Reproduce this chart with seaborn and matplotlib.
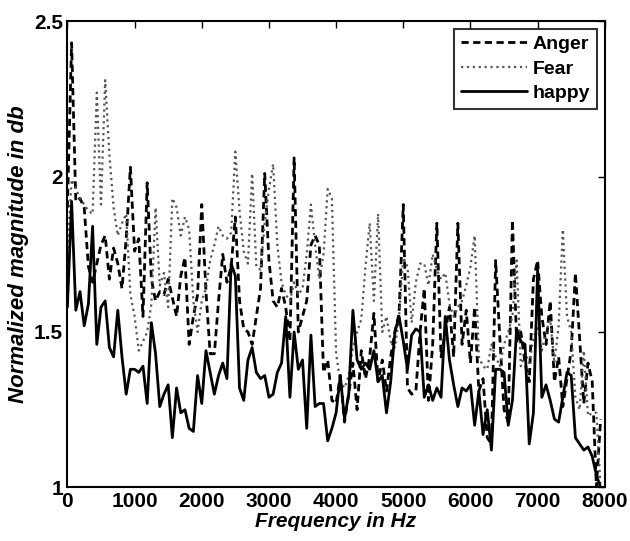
import numpy as np
import pandas as pd
from matplotlib import pyplot as plt
import seaborn as sns

step = 62.5  # Hz between samples
anger = [1.90, 2.43, 1.92, 1.93, 1.90, 1.71, 1.66, 1.72, 1.78, 1.81,
         1.67, 1.77, 1.72, 1.64, 1.80, 2.03, 1.76, 1.80, 1.55, 1.98,
         1.67, 1.60, 1.63, 1.62, 1.67, 1.61, 1.55, 1.68, 1.74, 1.46,
         1.55, 1.62, 1.91, 1.63, 1.43, 1.43, 1.60, 1.75, 1.66, 1.71,
         1.87, 1.60, 1.51, 1.50, 1.46, 1.55, 1.64, 2.01, 1.73, 1.60,
         1.58, 1.64, 1.58, 1.47, 2.06, 1.50, 1.55, 1.60, 1.78, 1.81,
         1.78, 1.37, 1.41, 1.28, 1.27, 1.36, 1.21, 1.30, 1.40, 1.25,
         1.44, 1.35, 1.42, 1.56, 1.34, 1.41, 1.31, 1.42, 1.50, 1.56,
         1.91, 1.32, 1.30, 1.31, 1.50, 1.64, 1.28, 1.46, 1.85, 1.42,
         1.50, 1.58, 1.42, 1.85, 1.46, 1.57, 1.40, 1.58, 1.31, 1.35,
         1.16, 1.14, 1.73, 1.48, 1.25, 1.21, 1.86, 1.47, 1.50, 1.40,
         1.34, 1.67, 1.73, 1.55, 1.46, 1.60, 1.34, 1.42, 1.26, 1.35,
         1.44, 1.69, 1.48, 1.27, 1.40, 1.34, 1.00, 1.22]
fear = [1.75, 1.99, 1.96, 1.93, 1.91, 1.89, 1.88, 2.27, 1.91, 2.31,
        2.07, 1.90, 1.81, 1.85, 1.88, 1.62, 1.55, 1.44, 1.47, 1.50,
        1.59, 1.90, 1.65, 1.69, 1.58, 1.93, 1.90, 1.81, 1.87, 1.83,
        1.60, 1.50, 1.60, 1.64, 1.73, 1.78, 1.84, 1.81, 1.80, 1.82,
        2.08, 1.89, 1.76, 1.72, 2.01, 1.71, 1.70, 1.85, 1.96, 2.04,
        1.78, 1.66, 1.62, 1.60, 1.66, 1.62, 1.64, 1.75, 1.91, 1.78,
        1.67, 1.75, 1.96, 1.93, 1.43, 1.34, 1.32, 1.36, 1.45, 1.50,
        1.54, 1.71, 1.85, 1.60, 1.88, 1.50, 1.55, 1.47, 1.45, 1.55,
        1.74, 1.71, 1.53, 1.66, 1.72, 1.72, 1.65, 1.75, 1.70, 1.67,
        1.69, 1.59, 1.55, 1.58, 1.60, 1.65, 1.71, 1.81, 1.42, 1.39,
        1.38, 1.46, 1.42, 1.39, 1.46, 1.50, 1.55, 1.73, 1.39, 1.43,
        1.40, 1.48, 1.52, 1.44, 1.50, 1.54, 1.40, 1.52, 1.83, 1.55,
        1.50, 1.29, 1.25, 1.44, 1.23, 1.24, 1.24, 1.00]
happy = [1.58, 1.92, 1.57, 1.63, 1.52, 1.59, 1.84, 1.46, 1.58, 1.60,
         1.45, 1.42, 1.57, 1.42, 1.30, 1.38, 1.38, 1.37, 1.39, 1.27,
         1.53, 1.43, 1.26, 1.30, 1.33, 1.16, 1.32, 1.24, 1.25, 1.19,
         1.18, 1.36, 1.27, 1.44, 1.37, 1.30, 1.36, 1.40, 1.35, 1.72,
         1.68, 1.32, 1.28, 1.41, 1.45, 1.37, 1.35, 1.36, 1.29, 1.30,
         1.37, 1.40, 1.55, 1.29, 1.50, 1.38, 1.41, 1.19, 1.49, 1.26,
         1.27, 1.27, 1.15, 1.19, 1.24, 1.36, 1.22, 1.30, 1.57, 1.41,
         1.38, 1.40, 1.38, 1.44, 1.34, 1.36, 1.24, 1.34, 1.50, 1.55,
         1.47, 1.38, 1.49, 1.51, 1.50, 1.29, 1.33, 1.28, 1.32, 1.29,
         1.55, 1.41, 1.33, 1.26, 1.32, 1.31, 1.33, 1.20, 1.31, 1.17,
         1.25, 1.12, 1.38, 1.38, 1.37, 1.20, 1.28, 1.51, 1.47, 1.46,
         1.14, 1.24, 1.70, 1.29, 1.33, 1.28, 1.22, 1.21, 1.29, 1.37,
         1.36, 1.16, 1.14, 1.12, 1.13, 1.10, 1.04, 1.00]

freq = np.arange(len(happy)) * step

sns.set_theme(style="white")
plt.rcParams['font.family'] = ['Liberation Sans', 'DejaVu Sans']
plt.rcParams['font.weight'] = 'bold'
plt.rcParams['axes.labelcolor'] = 'black'
plt.rcParams['text.color'] = 'black'

fig = plt.figure(figsize=(6.3, 5.41), dpi=100)
ax = fig.add_axes([0.107, 0.099, 0.853, 0.862])

sns.lineplot(x=freq, y=anger, ax=ax, color="black", linestyle=(0, (2.6, 1.6)), linewidth=2.0, label="Anger")
sns.lineplot(x=freq, y=fear, ax=ax, color="#555555", linestyle=":", linewidth=1.6, label="Fear")
sns.lineplot(x=freq, y=happy, ax=ax, color="black", linestyle="-", linewidth=2.0, label="happy")

ax.set_xlim(0, 8000)
ax.set_ylim(1, 2.5)
ax.set_xticks([0, 1000, 2000, 3000, 4000, 5000, 6000, 7000, 8000])
ax.set_yticks([1, 1.5, 2, 2.5])
ax.set_yticklabels(["1", "1.5", "2", "2.5"])
ax.tick_params(direction="in", length=5, width=1, top=True, right=True,
               labelsize=15, colors="black", pad=3)
for lab in ax.get_xticklabels() + ax.get_yticklabels():
    lab.set_fontweight("bold")
for s in ax.spines.values():
    s.set_color("black")
    s.set_linewidth(1.5)

ax.set_xlabel("Frequency in Hz", fontsize=15, fontweight="bold", style="italic", labelpad=1)
ax.set_ylabel("Normalized magnitude in db", fontsize=16, fontweight="bold", style="italic", labelpad=4)

leg = ax.legend(loc="upper right", fancybox=False, handlelength=3.4, fontsize=14,
                borderaxespad=0.4, labelspacing=0.35, handletextpad=0.3, borderpad=0.35)
leg.get_frame().set_edgecolor("black")
leg.get_frame().set_linewidth(1.5)
for t in leg.get_texts():
    t.set_fontweight("bold")

fig.savefig("out.png", dpi=100)
